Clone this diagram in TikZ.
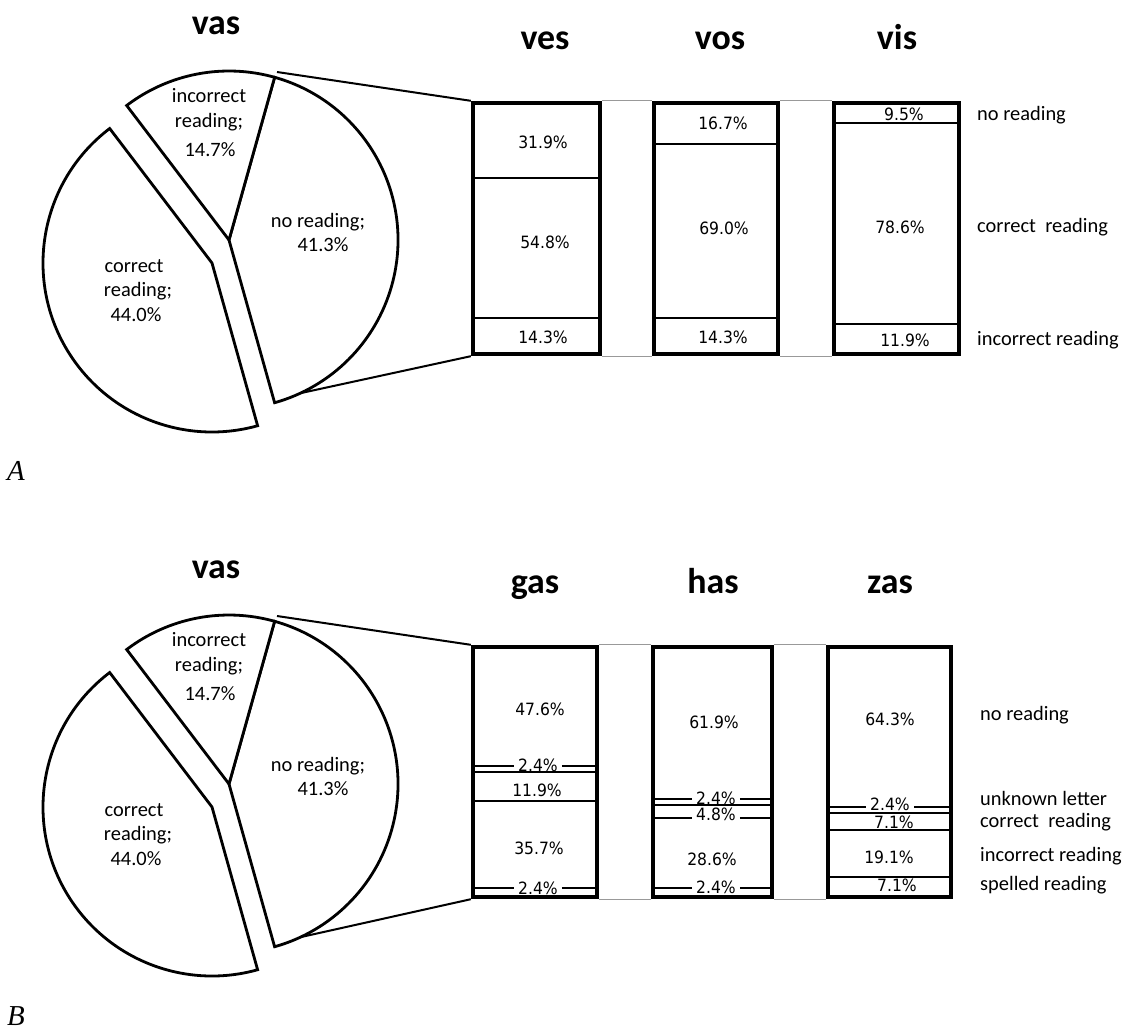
\documentclass[tikz,border=0pt]{standalone}
\usepackage{fontspec}
\setmainfont{Carlito}
\newfontfamily\pctfont[FakeStretch=0.92]{DejaVu Sans}
\newfontfamily\letterfont{Liberation Serif}
\newcommand\barnode[5]{\node[barbox,minimum width={(#3-#2)*1bp},minimum height={(#5-#4)*1bp}] (#1) at ({(#2+#3)/2},{(#4+#5)/2}) {};}
\newcommand\brokenline[4]{%
  \draw[divider] (#2,#4) -- (#1.west |- 0,#4);
  \draw[divider] (#1.east |- 0,#4) -- (#3,#4);}
\newcommand\vaspie[2]{%
\begin{scope}[yshift=#2]
  \coordinate (#1n) at (229,240);
  \coordinate (#1c) at (212,263);
  \draw[slice] (#1c) -- ++(127.26:169bp) arc[start angle=127.26,end angle=285.66,radius=169bp] -- cycle;
  \draw[slice] (#1n) -- ++(74.34:169bp) arc[start angle=74.34,end angle=-74.34,radius=169bp] -- cycle;
  \draw[slice] (#1n) -- ++(74.34:169bp) arc[start angle=74.34,end angle=127.26,radius=169bp] -- cycle;
  \coordinate (#1top) at (277,72);
  \coordinate (#1bot) at ([shift={(-65:169bp)}]#1n);
  \node[pielbl] (#1inca) at (209,102) {incorrect};
  \node[pielbl] (#1incb) at (209,127) {reading;};
  \node[pielbl] (#1incc) at (210,156) {14.7\%};
  \node[pielbl] (#1noa) at (318,227) {no reading;};
  \node[pielbl] (#1nob) at (323,251) {41.3\%};
  \node[pielbl] (#1cora) at (134,272) {correct};
  \node[pielbl] (#1corb) at (138,296) {reading;};
  \node[pielbl] (#1corc) at (136,321) {44.0\%};
\end{scope}}
\begin{document}
\begin{tikzpicture}[x=1bp,y=-1bp,
  slice/.style={draw=black,line width=2.8bp,fill=white},
  zoomline/.style={draw=black,line width=2bp},
  barbox/.style={draw=black,line width=4.4bp,inner sep=0pt},
  divider/.style={draw=black,line width=1.4bp},
  linkline/.style={draw=black!40,line width=1.2bp},
  pct/.style={font=\pctfont\fontsize{17}{19}\selectfont,inner sep=4bp},
  pielbl/.style={font=\fontsize{20.5}{24}\selectfont,anchor=base,inner sep=0pt},
  cat/.style={font=\fontsize{20.5}{24}\selectfont,anchor=base west,inner sep=0pt},
  title/.style={font=\bfseries\fontsize{36}{40}\selectfont,anchor=base,inner sep=0pt},
  panel/.style={font=\letterfont\itshape\fontsize{29}{32}\selectfont,anchor=base west,inner sep=0pt}]
\useasboundingbox (0,0) rectangle (1125,1029);

% ---------------- Panel A ----------------
\node[title] (tvasA) at (216,34) {vas};
\node[title] (tves) at (545,49) {ves};
\node[title] (tvos) at (720,49) {vos};
\node[title] (tvis) at (897,49) {vis};
\node[panel] (lblA) at (7,480) {A};

\vaspie{A}{0bp}

\barnode{a1}{473}{600}{103}{354}
\barnode{a2}{654}{778}{103}{354}
\barnode{a3}{834}{959}{103}{354}

\draw[linkline] (a1.north east) -- (a2.north west);
\draw[linkline] (a2.north east) -- (a3.north west);
\draw[linkline] (a1.south east) -- (a2.south west);
\draw[linkline] (a2.south east) -- (a3.south west);
\draw[zoomline] (Atop) -- (a1.north west);
\draw[zoomline] (Abot) -- (a1.south west);

\draw[divider] (473,178) -- (600,178);
\draw[divider] (473,318) -- (600,318);
\draw[divider] (654,144) -- (778,144);
\draw[divider] (654,318) -- (778,318);
\draw[divider] (834,123) -- (959,123);
\draw[divider] (834,324) -- (959,324);

\node[pct] (pa1a) at (543,142) {31.9\%};
\node[pct] (pa1b) at (545,242) {54.8\%};
\node[pct] (pa1c) at (543,337) {14.3\%};
\node[pct] (pa2a) at (723,123) {16.7\%};
\node[pct] (pa2b) at (724,228) {69.0\%};
\node[pct] (pa2c) at (723,337) {14.3\%};
\node[pct] (pa3a) at (904,114) {9.5\%};
\node[pct] (pa3b) at (900,227) {78.6\%};
\node[pct] (pa3c) at (905,340) {11.9\%};

\node[cat] (caA1) at (977,120) {no reading};
\node[cat] (caA2) at (977,232) {correct\ \ reading};
\node[cat] (caA3) at (977,345) {incorrect reading};

% ---------------- Panel B ----------------
\node[title] (tvasB) at (216,578) {vas};
\node[title] (tgas) at (535,593) {gas};
\node[title] (thas) at (713,593) {has};
\node[title] (tzas) at (890,593) {zas};
\node[panel] (lblB) at (7,1025) {B};

\vaspie{B}{-544bp}

\barnode{b1}{473}{597}{647}{897}
\barnode{b2}{653}{772}{647}{897}
\barnode{b3}{828}{951}{647}{897}

\draw[linkline] (b1.north east) -- (b2.north west);
\draw[linkline] (b2.north east) -- (b3.north west);
\draw[linkline] (b1.south east) -- (b2.south west);
\draw[linkline] (b2.south east) -- (b3.south west);
\draw[zoomline] (Btop) -- (b1.north west);
\draw[zoomline] (Bbot) -- (b1.south west);

% gas
\node[pct] (pb1a) at (540,709) {47.6\%};
\node[pct] (pb1b) at (538,765) {2.4\%};
\node[pct] (pb1c) at (537,790) {11.9\%};
\node[pct] (pb1d) at (539,848) {35.7\%};
\node[pct] (pb1e) at (538,888) {2.4\%};
\brokenline{pb1b}{473}{597}{766}
\draw[divider] (473,772) -- (597,772);
\draw[divider] (473,801) -- (597,801);
\brokenline{pb1e}{473}{597}{888}

% has
\node[pct] (pb2a) at (714,722) {61.9\%};
\node[pct] (pb2b) at (716,798) {2.4\%};
\node[pct] (pb2c) at (716,814) {4.8\%};
\node[pct] (pb2d) at (712,859) {28.6\%};
\node[pct] (pb2e) at (716,887) {2.4\%};
\brokenline{pb2b}{653}{772}{799}
\draw[divider] (653,805) -- (772,805);
\brokenline{pb2c}{653}{772}{818}
\brokenline{pb2e}{653}{772}{888}

% zas
\node[pct] (pb3a) at (890,719) {64.3\%};
\node[pct] (pb3b) at (890,804) {2.4\%};
\node[pct] (pb3c) at (894,822) {7.1\%};
\node[pct] (pb3d) at (889,857) {19.1\%};
\node[pct] (pb3e) at (897,885) {7.1\%};
\brokenline{pb3b}{828}{951}{807}
\draw[divider] (828,813) -- (951,813);
\draw[divider] (828,830) -- (951,830);
\draw[divider] (828,877) -- (951,877);

\node[cat] (cbB1) at (980,720) {no reading};
\node[cat] (cbB2) at (980,805) {unknown letter};
\node[cat] (cbB3) at (980,827) {correct\ \ reading};
\node[cat] (cbB4) at (980,861) {incorrect reading};
\node[cat] (cbB5) at (980,890) {spelled reading};
\end{tikzpicture}
\end{document}
